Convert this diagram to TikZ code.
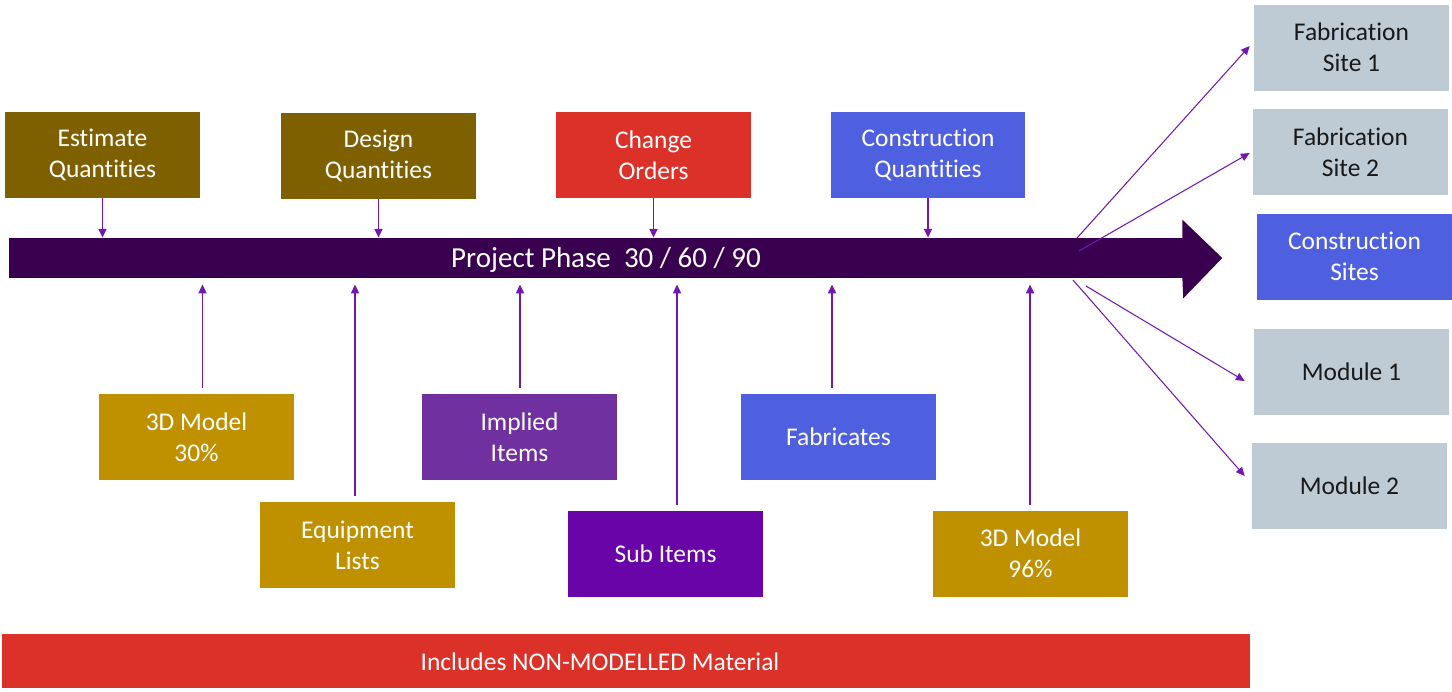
\documentclass[tikz,border=0pt]{standalone}
\usepackage{fontspec}
\setmainfont{Carlito}[Ligatures={NoCommon,NoRare}]
\usepackage{tikz}
\usetikzlibrary{calc}
\usetikzlibrary{arrows.meta}

\definecolor{phase}{HTML}{390050}
\definecolor{olive}{HTML}{7F6000}
\definecolor{gold}{HTML}{BF9000}
\definecolor{redbox}{HTML}{DC3129}
\definecolor{bluebox}{HTML}{4E5FE0}
\definecolor{violet}{HTML}{7030A0}
\definecolor{deepviolet}{HTML}{6804A8}
\definecolor{greybox}{HTML}{BECBD4}
\definecolor{link}{HTML}{7317B3}

\begin{document}
\begin{tikzpicture}[x=0.02cm,y=-0.02cm,
	box/.style={minimum width=3.9cm,minimum height=1.72cm,align=center,
		text=white,font=\fontsize{14.5}{17.6}\selectfont},
	site/.style={box,fill=greybox,text=black!90},
	feed/.style={draw=link,line width=1.1pt,-{Triangle[length=5pt,width=4.5pt]}},
	fan/.style={draw=link,line width=0.6pt,-{Triangle[length=5pt,width=4.5pt]}}]
		\useasboundingbox (0,0) rectangle (1452,691);
		% phase arrow
		\node[fill=phase,minimum width=23.48cm,minimum height=0.8cm] (bar) at (596,258) {};
		\fill[phase] ([xshift=-0.5pt]bar.north east) -- ++(0,-18) -- ($(bar.east)+(39,0)$)
			-- ($(bar.south east)+(0,20)$) -- ([xshift=-0.5pt]bar.south east) -- cycle;
		\node[text=white,font=\fontsize{16.5}{20}\selectfont] (phasetxt) at (606,260) {Project Phase\ \ 30 / 60 / 90};
		% quantities above
		\node[box,fill=olive] (est) at (102.5,155) {Estimate\\Quantities};
		\node[box,fill=olive] (dsg) at (378.5,156) {Design\\Quantities};
		\node[box,fill=redbox] (chg) at (653.5,155) {Change\\Orders};
		\node[box,fill=bluebox] (cons) at (928,155) {Construction\\Quantities};
		\foreach \n in {est,dsg,chg,cons}
			\draw[feed] (\n.south) -- (\n.south |- bar.north);
		% sources below
		\node[box,fill=gold] (m30) at (196.5,437) {3D Model\\30\%};
		\node[box,fill=gold] (equip) at (357.5,545) {Equipment\\Lists};
		\node[box,fill=violet] (impl) at (519.5,437) {Implied\\Items};
		\node[box,fill=deepviolet] (sub) at (665.5,553.5) {Sub Items};
		\node[box,fill=bluebox] (fabr) at (838.5,437) {Fabricates};
		\node[box,fill=gold] (m96) at (1030.5,553.5) {3D Model\\96\%};
		\foreach \n/\dx in {m30/6,equip/-2.5,impl/0.5,sub/11.5,fabr/-6.5,m96/-0.5}
			\draw[feed,shorten <=3pt,shorten >=3.5pt] ($(\n.north)+(\dx,0)$) -- ($(\n.north |- bar.south)+(\dx,0)$);
		% sites on the right
		\node[site] (fab1) at (1351.5,47.5) {Fabrication\\Site 1};
		\node[site] (fab2) at (1350.5,152) {Fabrication\\Site 2};
		\node[box,fill=bluebox] (csite) at (1354.5,256.5) {Construction\\Sites};
		\node[site] (mod1) at (1351.5,371.5) {Module 1};
		\node[site] (mod2) at (1349.5,486) {Module 2};
		\coordinate (f1) at (1077,238);
		\coordinate (f2) at (1079,251);
		\coordinate (f3) at (1086,286);
		\coordinate (f4) at (1073,280);
		\draw[fan] (f1) -- ($(fab1.west)+(-4,-1.5)$);
		\draw[fan] (f2) -- ($(fab2.west)+(-3,1)$);
		\draw[fan] (f3) -- ($(mod1.west)+(-9,9.5)$);
		\draw[fan] (f4) -- ($(mod2.west)+(-7,-10)$);
		% non-modelled
		\node[fill=redbox,minimum width=24.96cm,minimum height=1.08cm] (nonmod) at (626,661) {};
		\node[text=white,font=\fontsize{14.5}{17.6}\selectfont] (nonmodtxt) at (600,662) {Includes NON-MODELLED Material};
\end{tikzpicture}
\end{document}
